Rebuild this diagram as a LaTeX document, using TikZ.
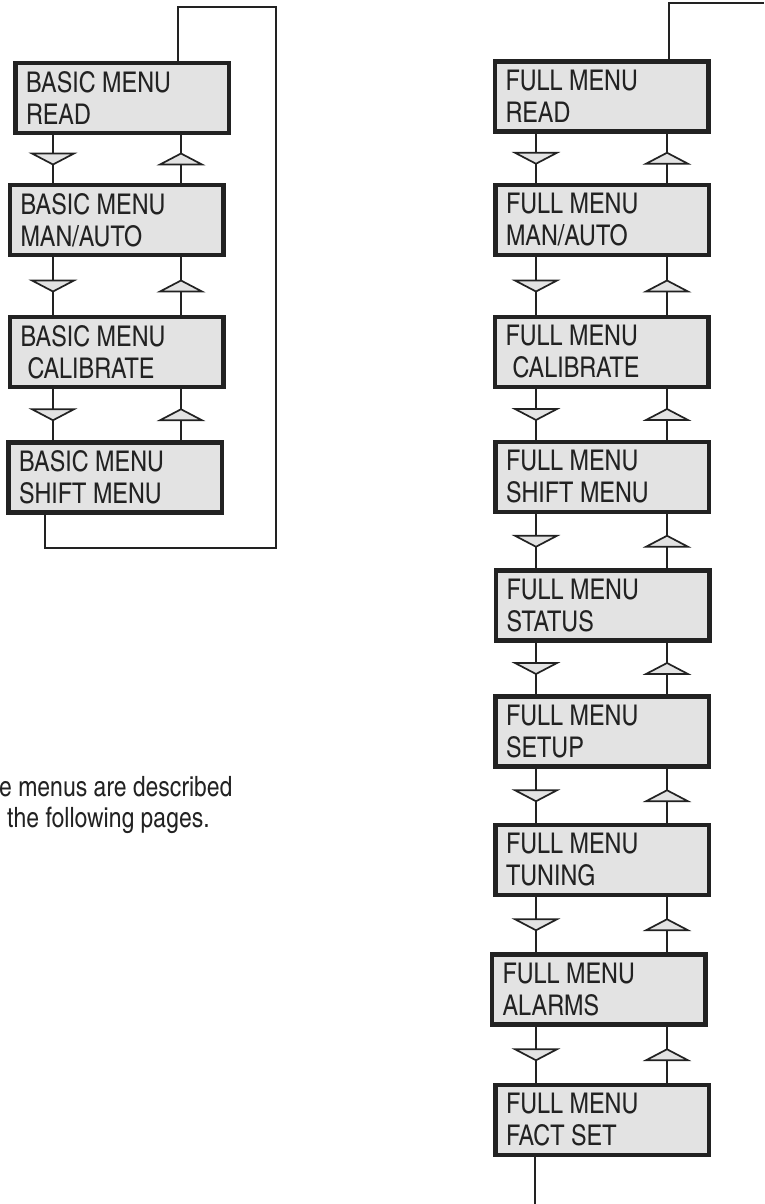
\documentclass[tikz,border=0pt]{standalone}
\usepackage{fontspec}
\setmainfont{texgyreheroscn-regular.otf}
\usepackage{tikz}
\usetikzlibrary{decorations.markings}
\definecolor{panel}{HTML}{E3E3E3}
\definecolor{ink}{HTML}{222222}

\begin{document}
\begin{tikzpicture}[x=1pt,y=-1pt,
    menubox/.style={draw=ink,fill=panel,line width=4.5pt,rectangle,
        minimum width=213.5pt,minimum height=70pt,text width=192pt,
        inner xsep=10.75pt,inner ysep=0pt,align=flush left,text=ink,
        font=\fontsize{28.5}{32}\selectfont},
    wire/.style={draw=ink,line width=2pt},
    tri/.style={draw=ink,fill=panel,line width=1.7pt,line join=miter},
    step arrow/.style={wire,postaction={decorate},
        decoration={markings,mark=at position 0.5 with
            {\draw[tri] (-5.5,-21) -- (-5.5,21) -- (5.5,0) -- cycle;}}}]
\useasboundingbox (0,0) rectangle (764,1204);

% Columns of the connectors
\coordinate (bd) at (53,0);
\coordinate (bu) at (181,0);
\coordinate (fd) at (536,0);
\coordinate (fu) at (667,0);

% Basic menu
\foreach \i/\x/\y/\txt in {1/122/98/READ, 2/116.5/220/{MAN/AUTO},
        3/116.5/352/\hspace*{7pt}CALIBRATE, 4/115/477.5/SHIFT MENU} {
    \node[menubox] (b\i) at (\x,\y) {BASIC MENU\\\txt};
}

% Full menu
\foreach \i/\x/\y/\txt in {1/601.5/96.5/READ, 2/602/220/{MAN/AUTO},
        3/601.5/352/\hspace*{7pt}CALIBRATE, 4/602/477/SHIFT MENU,
        5/602.5/605.5/STATUS, 6/602/731.5/SETUP, 7/602/860/TUNING,
        8/598.5/989.5/ALARMS, 9/602/1120/FACT SET} {
    \node[menubox] (f\i) at (\x,\y) {FULL MENU\\\txt};
}

% Up and down steps
\foreach \i in {1,2,3} {
    \pgfmathtruncatemacro{\j}{\i+1}
    \draw[step arrow] (b\i.south -| bd) -- (b\j.north -| bd);
    \draw[step arrow] (b\j.north -| bu) -- (b\i.south -| bu);
}
\foreach \i in {1,...,8} {
    \pgfmathtruncatemacro{\j}{\i+1}
    \draw[step arrow] (f\i.south -| fd) -- (f\j.north -| fd);
    \draw[step arrow] (f\j.north -| fu) -- (f\i.south -| fu);
}

% Wrap-around lines
\coordinate (bt) at (276,7);
\coordinate (bb) at (45,548);
\coordinate (ft) at (764,3);
\coordinate (fb) at (535,1204);
\draw[wire] (b1.north -| 178,0) |- (bt) |- (bb) -- (b4.south -| bb);
\draw[wire] (f1.north -| 669,0) |- (ft);
\draw[wire] (f9.south -| fb) -- (fb);

% Note
\node[anchor=base west,align=left,inner sep=0pt,text=ink,
    font=\fontsize{28}{31}\selectfont] (note) at (-1,827)
    {e menus are described\\\hspace*{8pt}the following pages.};
\end{tikzpicture}
\end{document}
